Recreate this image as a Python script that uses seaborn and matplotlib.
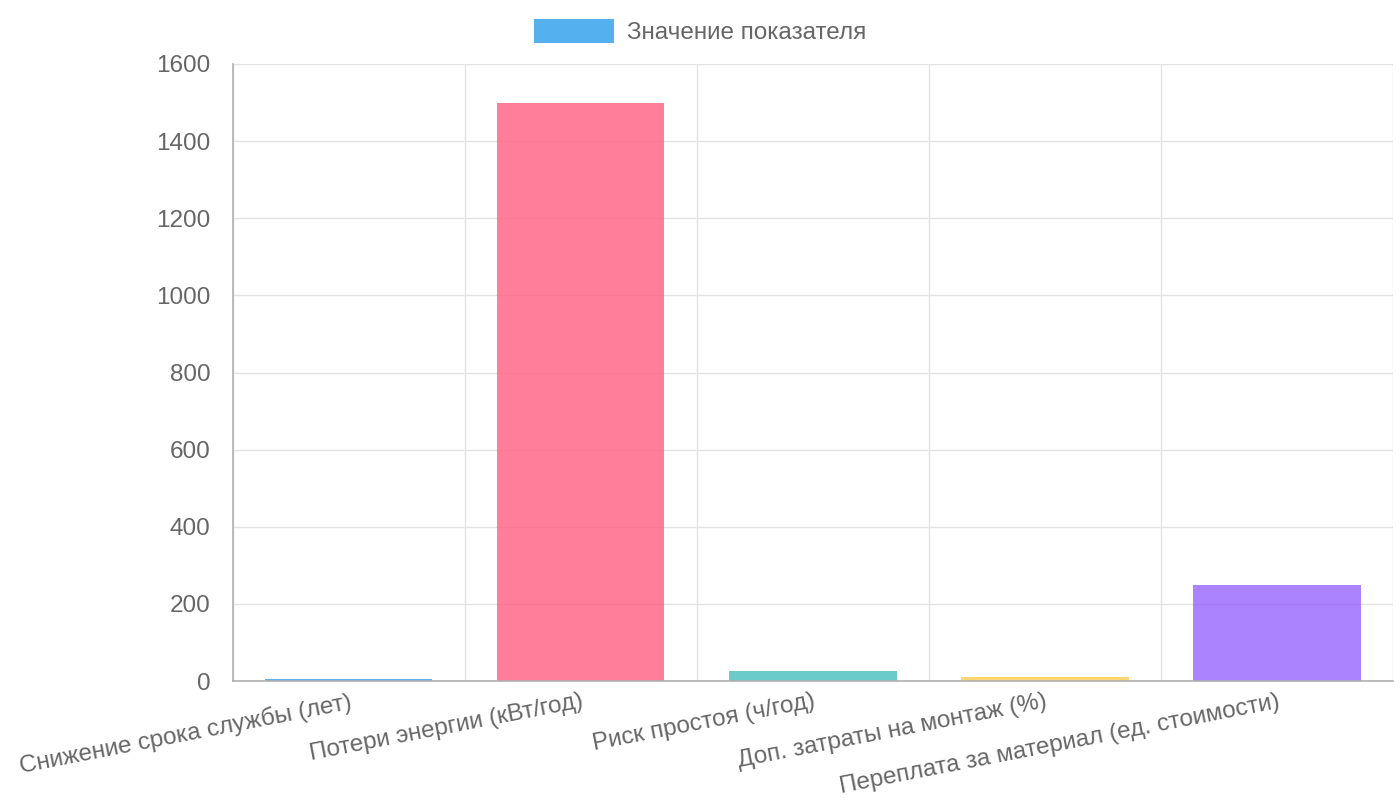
"""
Bar chart of defect indicators (recreated).
"""
import matplotlib
matplotlib.use("Agg")
import matplotlib.pyplot as plt
import matplotlib.patches as mpatches
import seaborn as sns
import pandas as pd
import numpy as np

categories = [
    "Снижение срока службы (лет)",
    "Потери энергии (кВт/год)",
    "Риск простоя (ч/год)",
    "Доп. затраты на монтаж (%)",
    "Переплата за материал (ед. стоимости)",
]
values = [5, 1500, 25, 10, 250]
colors = ["#36a2eb", "#ff6384", "#4bc0c0", "#ffce56", "#9966ff"]
legend_label = "Значение показателя"

sns.set_style("white")
plt.rcParams["font.family"] = ["Liberation Sans", "DejaVu Sans"]

df = pd.DataFrame({"category": categories, "value": values})

fig = plt.figure(figsize=(14, 8), dpi=100)
ax = fig.add_axes([0.1664, 0.14875, 0.9950 - 0.1664, 0.92 - 0.14875])

sns.barplot(data=df, x="category", y="value", hue="category",
            palette=colors, saturation=1, width=0.72, alpha=0.82,
            legend=False, ax=ax, linewidth=0)

n = len(categories)
ax.set_xlim(-0.5, n - 0.5)
ax.set_ylim(0, 1600)
ax.set_yticks(np.arange(0, 1601, 200))
ax.set_xlabel("")
ax.set_ylabel("")

# grid: horizontal at y ticks, vertical at category boundaries
ax.set_xticks(np.arange(-0.5, n, 1.0), minor=True)
ax.grid(axis="y", which="major", color="#e3e3e3", linewidth=1)
ax.grid(axis="x", which="minor", color="#e3e3e3", linewidth=1)
ax.set_axisbelow(True)

ax.tick_params(axis="x", which="major", length=0, pad=7, labelsize=17.5,
               labelcolor="#666666")
ax.tick_params(axis="x", which="minor", length=13, color="#e3e3e3", width=1)
ax.tick_params(axis="y", which="major", length=14, color="#e3e3e3", width=1,
               pad=2, labelsize=17.5, labelcolor="#666666")
plt.setp(ax.get_xticklabels(), rotation=11, ha="right", va="top",
         rotation_mode="anchor")

for side in ["top", "right"]:
    ax.spines[side].set_visible(False)
for side in ["left", "bottom"]:
    ax.spines[side].set_color("#b0b0b0")
    ax.spines[side].set_linewidth(1.2)

handle = mpatches.Patch(facecolor=colors[0], alpha=0.85, edgecolor="none")
fig.legend([handle], [legend_label], loc="upper center",
           bbox_to_anchor=(0.5, 1.0), frameon=False, fontsize=17.5,
           handlelength=3.3, handleheight=1.1, handletextpad=0.5,
           borderpad=0.3, labelcolor="#666666")

fig.savefig("out.png", dpi=100)
